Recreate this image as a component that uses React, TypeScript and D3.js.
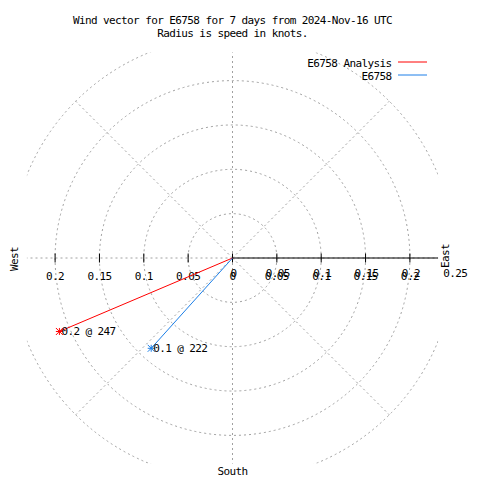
import React from "react";
import * as d3 from "d3";

const titleLines = [
  "Wind vector for E6758 for 7 days from 2024-Nov-16 UTC",
  "Radius is speed in knots.",
];
const seriesNames = ["E6758 Analysis", "E6758"];
const seriesSpeeds = [0.212, 0.137];
const seriesDirections = [247, 222];
const seriesColors = ["#ff0000", "#1c7fe8"];
const circleTicks = [0.05, 0.1, 0.15, 0.2, 0.25];
const rTickLabels = [0, 0.05, 0.1, 0.15, 0.2, 0.25];
const xTicks = [-0.2, -0.15, -0.1, -0.05, 0, 0.05, 0.1, 0.15, 0.2];
const spokeAngles = [0, 45, 90, 135, 180, 225, 270, 315];
const rMax = 0.25;
const viewMax = 0.2318;

const W = 480;
const H = 480;
const cx = 232.5;
const cy = 258;
const font = "'DejaVu Sans Mono', monospace";
const textStyle: React.CSSProperties = { fontFamily: font, fontSize: 11, letterSpacing: "-0.6px" };

export default function App() {
  const r = d3.scaleLinear().domain([0, rMax]).range([0, rMax * 887]);
  const x = d3.scaleLinear().domain([-rMax, rMax]).range([cx - r(rMax), cx + r(rMax)]);
  const half = r(viewMax);
  const pt = (dirDeg: number, v: number) => {
    const a = (dirDeg * Math.PI) / 180;
    return [cx + Math.sin(a) * r(v), cy - Math.cos(a) * r(v)];
  };
  const fmt = (v: number) => String(+Math.abs(v).toFixed(2));
  const star = (px: number, py: number, s: number) =>
    `M${px - s},${py}H${px + s}M${px},${py - s}V${py + s}M${px - s},${py - s}L${px + s},${py + s}M${px - s},${py + s}L${px + s},${py - s}`;
  const gray = "#a0a0a0";
  const dash = "2,3";

  return (
    <svg width={W} height={H} style={{ position: "absolute", left: 0, top: 0, background: "#fff" }}>
      <defs>
        <clipPath id="plotclip">
          <rect x={cx - half} y={cy - half} width={2 * half} height={2 * half} />
        </clipPath>
      </defs>
      <rect x={0} y={0} width={W} height={H} fill="#fff" />
      {titleLines.map((t, i) => (
        <text key={t} x={cx} y={20 + i * 13} dy="0.35em" textAnchor="middle" style={textStyle}>
          {t}
        </text>
      ))}
      <g clipPath="url(#plotclip)">
        {circleTicks.map((c) => (
          <circle key={c} cx={cx} cy={cy} r={r(c)} fill="none" stroke={gray} strokeWidth={1} strokeDasharray={dash} />
        ))}
        {spokeAngles.map((a) => {
          const [ex, ey] = pt(a, rMax);
          return <line key={a} x1={cx} y1={cy} x2={ex} y2={ey} stroke={gray} strokeWidth={1} strokeDasharray={dash} />;
        })}
        <line x1={cx} y1={cy} x2={cx + half} y2={cy} stroke="#000" strokeWidth={1} />
        {xTicks.map((t) => (
          <line key={t} x1={x(t)} y1={cy - 4.5} x2={x(t)} y2={cy + 4.5} stroke="#000" strokeWidth={1} />
        ))}
      </g>
      {xTicks.map((t) => (
        <text key={"x" + t} x={x(t)} y={276} dy="0.35em" textAnchor="middle" style={textStyle}>
          {fmt(t)}
        </text>
      ))}
      {rTickLabels.map((t) => (
        <text key={"r" + t} x={cx + r(t) + 1} y={273} dy="0.35em" textAnchor="middle" style={textStyle}>
          {fmt(t)}
        </text>
      ))}
      <text transform={`translate(${cx - half - 13},${cy + 1}) rotate(-90)`} dy="0.35em" textAnchor="middle" style={textStyle}>
        West
      </text>
      <text transform={`translate(${cx + half + 7},${cy - 2}) rotate(-90)`} dy="0.35em" textAnchor="middle" style={textStyle}>
        East
      </text>
      <text x={cx} y={cy + half + 8} dy="0.35em" textAnchor="middle" style={textStyle}>
        South
      </text>
      {seriesNames.map((n, i) => {
        const [ex, ey] = pt(seriesDirections[i], seriesSpeeds[i]);
        return (
          <g key={n}>
            <line x1={cx} y1={cy} x2={ex} y2={ey} stroke={seriesColors[i]} strokeWidth={1} />
            <path d={star(ex, ey, 3.5)} stroke={seriesColors[i]} strokeWidth={1} fill="none" />
            <text x={ex + 2} y={ey} dy="0.35em" style={textStyle}>
              {`${d3.format(".1f")(seriesSpeeds[i])} @ ${seriesDirections[i]}`}
            </text>
          </g>
        );
      })}
      {seriesNames.map((n, i) => (
        <g key={"leg" + n}>
          <text x={391.6} y={63 + i * 13} dy="0.35em" textAnchor="end" style={textStyle}>
            {n}
          </text>
          <line x1={398} y1={62 + i * 13} x2={427} y2={62 + i * 13} stroke={seriesColors[i]} strokeWidth={1} />
        </g>
      ))}
    </svg>
  );
}
